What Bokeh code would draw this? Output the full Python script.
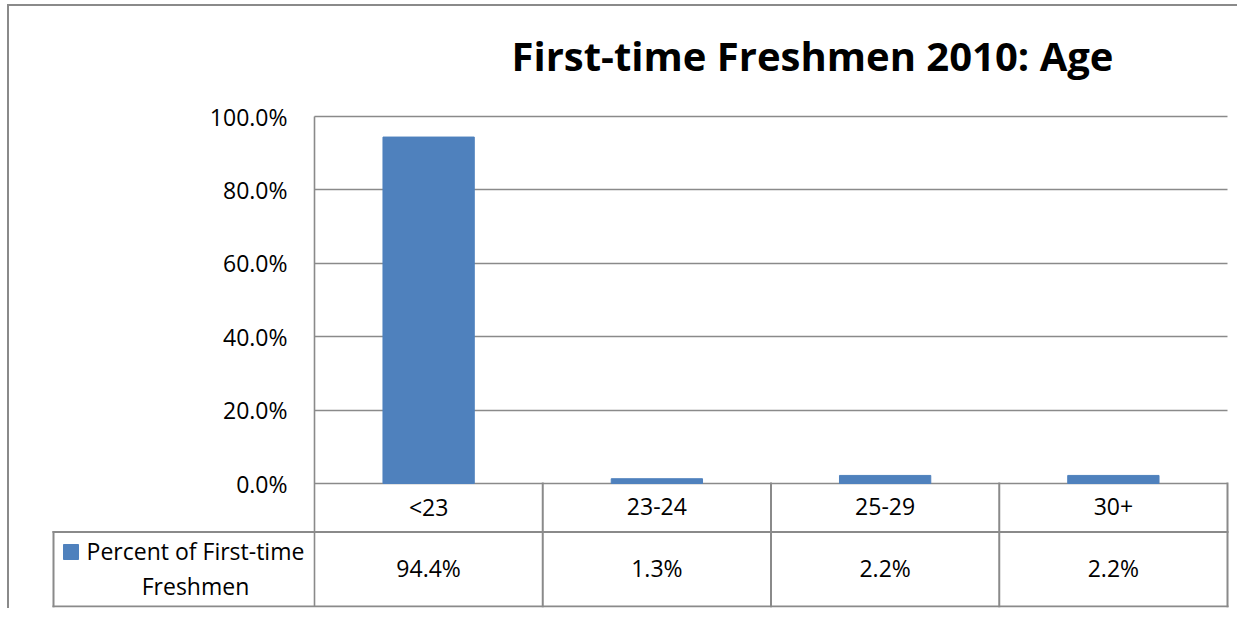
from bokeh.plotting import figure
from bokeh.models import Range1d, FixedTicker, NumeralTickFormatter, Div, Spacer
from bokeh.layouts import column, row
from bokeh.core.properties import value
from bokeh.embed import file_html
from bokeh.resources import INLINE

# ---- data ----
categories = ["<23", "23-24", "25-29", "30+"]
percent = [0.944, 0.013, 0.022, 0.022]
value_labels = ["94.4%", "1.3%", "2.2%", "2.2%"]
y_ticks = [0.0, 0.2, 0.4, 0.6, 0.8, 1.0]
series_name_lines = ["Percent of First-time", "Freshmen"]
title_text = "First-time Freshmen 2010: Age"

# ---- styles ----
GRAY = "#8a8a8a"
BLUE = "#4F81BD"
FONT = "Open Sans"
TXT = "23px"

# ---- layout geometry (pixels -> data units) ----
UNIT_X = 228.25   # px per category column
UNIT_Y = 367.0    # px per 100 %
def dx(px):
    return px / UNIT_X
def dy(px):
    return px / UNIT_Y

n = len(categories)
xs = [i + 0.5 for i in range(n)]          # category centres on the x scale
HDR_W = dx(261)                            # width of the series-name column
CAT_BOTTOM = -dy(48.5)                     # bottom of the category row
TABLE_BOTTOM = -dy(123)                    # bottom of the value row
CAT_MID = CAT_BOTTOM / 2
VAL_MID = (CAT_BOTTOM + TABLE_BOTTOM) / 2

p = figure(width=1228, height=602,
           x_range=Range1d(-HDR_W - dx(2), n + dx(2)),
           y_range=Range1d(-dy(124), 1 + dy(110)),
           x_axis_location=None, y_axis_location="left",
           toolbar_location=None, output_backend="svg", title=None,
           min_border_left=42, min_border_right=8, min_border_top=0, min_border_bottom=1)
p.outline_line_color = None
p.xgrid.visible = False

# y axis drawn at the left edge of the plot area (x = 0)
ax = p.yaxis[0]
ax.fixed_location = 0
ax.bounds = (TABLE_BOTTOM, 1.0)
ax.ticker = FixedTicker(ticks=y_ticks)
ax.formatter = NumeralTickFormatter(format="0.0%")
ax.major_tick_out = 0
ax.major_tick_in = 0
ax.minor_tick_out = 0
ax.minor_tick_in = 0
ax.axis_line_color = GRAY
ax.axis_line_width = 1.6
ax.major_label_standoff = 27
ax.major_label_text_font = FONT
ax.major_label_text_font_size = TXT
ax.major_label_text_color = "black"

# horizontal gridlines across the plot area only
grid = p.ygrid[0]
grid.ticker = FixedTicker(ticks=y_ticks)
if "cross_bounds" in grid.properties():
    grid.cross_bounds = (0, n)
    grid.grid_line_color = GRAY
    grid.grid_line_width = 1.6
else:
    grid.visible = False
    p.segment(x0=0, x1=n, y0=y_ticks, y1=y_ticks, line_color=GRAY, line_width=1.6)

# bars
p.vbar(x=xs, top=percent, width=0.4, fill_color=BLUE, line_color=BLUE)

# title
p.text(x=[dx(812 - 314)], y=[1 + dy(116 - 55)], text=[title_text], text_align="center",
       text_baseline="middle", text_font=value(FONT), text_font_size="40px",
       text_font_style="bold", text_color="black")

# ---- data table ----
p.segment(x0=-HDR_W, x1=n, y0=[CAT_BOTTOM, TABLE_BOTTOM], y1=[CAT_BOTTOM, TABLE_BOTTOM],
          line_color=GRAY, line_width=2, line_cap="square")
p.segment(x0=list(range(1, n + 1)), x1=list(range(1, n + 1)), y0=TABLE_BOTTOM, y1=0,
          line_color=GRAY, line_width=2, line_cap="square")
p.segment(x0=[-HDR_W], x1=[-HDR_W], y0=[TABLE_BOTTOM], y1=[CAT_BOTTOM],
          line_color=GRAY, line_width=2, line_cap="square")

p.text(x=xs, y=CAT_MID + dy(1), text=categories, text_align="center", text_baseline="middle",
       text_font=value(FONT), text_font_size=TXT, text_color="black")
p.text(x=xs, y=VAL_MID + dy(1), text=value_labels, text_align="center", text_baseline="middle",
       text_font=value(FONT), text_font_size=TXT, text_color="black")

# series key + name in the first column
p.scatter(x=[-HDR_W + dx(17.5)], y=[CAT_BOTTOM - dy(20)], marker="square", size=15,
          fill_color=BLUE, line_color=BLUE)
p.text(x=[-HDR_W + dx(142)] * 2, y=[CAT_BOTTOM - dy(19), CAT_BOTTOM - dy(54)],
       text=series_name_lines, text_align="center", text_baseline="middle",
       text_font=value(FONT), text_font_size=TXT, text_color="black")

# ---- outer chart border ----
left_border = Div(width=2, height=604, margin=0, styles={"background-color": GRAY})
top_border = Div(width=1228, height=2, margin=0, styles={"background-color": GRAY})

layout = column(Spacer(width=1237, height=4),
                row(Spacer(width=7, height=604), left_border, column(top_border, p)))

open("out.html", "w").write(file_html(layout, INLINE))
